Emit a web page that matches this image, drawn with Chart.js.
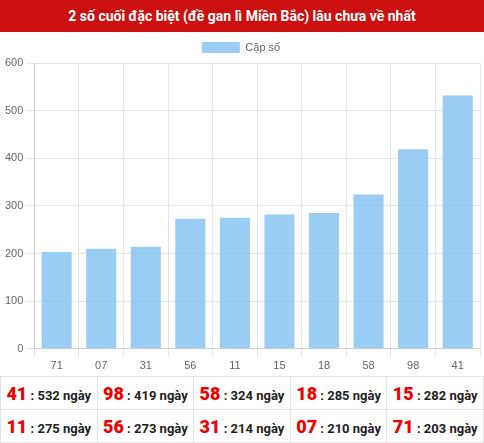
<!DOCTYPE html>
<html><head><meta charset="utf-8">
<script src="https://cdn.jsdelivr.net/npm/chart.js@4"></script>
<style>
body{margin:0;width:484px;height:443px;font-family:Roboto,Arial,sans-serif;background:#fff;overflow:hidden}
#hd{background:#cc1010;color:#fff;font-weight:bold;font-size:14px;height:32px;line-height:32px;text-align:center}
#wrap{position:relative;width:484px;height:344px}
table{border-collapse:collapse;width:484px;table-layout:fixed}
td{border:1px solid #e4e4e4;height:32px;text-align:center;font-size:13px;font-weight:bold;color:#222;padding:0}
td b{color:#e00;font-size:18px}
</style></head><body>
<div id="hd">2 số cuối đặc biệt (đề gan lì Miền Bắc) lâu chưa về nhất</div>
<div id="wrap"><canvas id="c"></canvas></div>
<table id="t"></table>
<script>
const categories=["71","07","31","56","11","15","18","58","98","41"];
const values=[203,210,214,273,275,282,285,324,419,532];
const tableNums=["41","98","58","18","15","11","56","31","07","71"];
const tableDays=[532,419,324,285,282,275,273,214,210,203];
let h="";
for(let r=0;r<2;r++){h+="<tr>";for(let i=0;i<5;i++){const k=r*5+i;h+=`<td><b>${tableNums[k]}</b> : ${tableDays[k]} ngày</td>`;}h+="</tr>";}
document.getElementById("t").innerHTML=h;
new Chart(document.getElementById("c"),{type:"bar",
data:{labels:categories,datasets:[{label:"Cặp số",data:values,backgroundColor:"rgba(135,196,242,0.85)",borderWidth:0,barPercentage:0.75,categoryPercentage:0.9}]},
options:{responsive:true,maintainAspectRatio:false,animation:false,
layout:{padding:{left:2,right:4,top:0,bottom:0}},
plugins:{legend:{labels:{boxWidth:38,boxHeight:11,color:"#666",font:{size:11}}}},
scales:{y:{min:0,max:600,ticks:{stepSize:100,color:"#666",font:{size:11}},grid:{color:"#e6e6e6"}},
x:{ticks:{color:"#666",font:{size:11}},grid:{color:"#e6e6e6"}}}}});
</script></body></html>
